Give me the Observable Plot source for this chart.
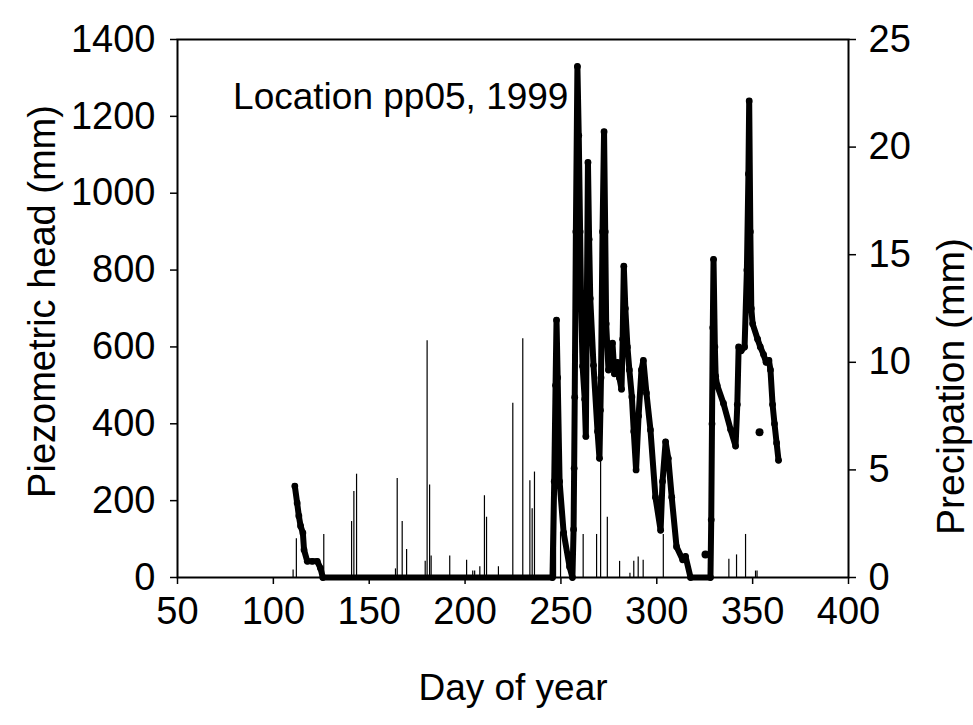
<!DOCTYPE html>
<html>
<head>
<meta charset="utf-8">
<script src="https://cdn.jsdelivr.net/npm/d3@7"></script>
<script src="https://cdn.jsdelivr.net/npm/@observablehq/plot@0.6"></script>
<style>
  html, body { margin: 0; padding: 0; background: #fff; }
</style>
</head>
<body>
<div id="chart"></div>
<script>
// Piezometric head (mm) readings, by day of year
const headDay = [111.2, 112.4, 113.3, 114.2, 115.4, 116.0, 117.7, 120.3, 122.9, 124.6, 125.8,
  245.6, 246.5, 247.2, 247.7, 248.3, 249.3, 251.4, 254.5, 256.0,
  256.6, 256.9, 257.2, 257.8, 258.6, 259.3, 260.0, 260.5, 261.3, 262.4, 263.0,
  263.5, 264.1, 264.7, 265.3, 267.0, 269.1, 270.1,
  270.6, 270.9, 271.7, 272.5, 273.1, 273.6, 274.8, 275.9, 276.9, 277.9, 279.5, 280.5, 281.6,
  282.2, 282.8, 283.6, 284.7, 285.7, 287.0, 288.0, 289.2, 290.5, 292.0, 293.0, 294.6, 296.7,
  299.3, 302.0, 303.0, 304.6, 306.0, 307.8, 310.3, 313.5, 315.0, 317.6, 328.0,
  328.4, 328.8, 329.2, 329.6, 330.3, 330.7, 331.5, 334.8, 338.5, 341.1, 342.0, 342.7, 344.0,
  345.8, 347.0, 347.8, 348.2, 348.8, 349.3, 350.0, 352.6, 354.0, 355.7, 357.0, 358.5, 359.3,
  360.4, 361.4, 362.5, 363.5];
const headMm = [238, 194, 160, 134, 116, 72, 42, 42, 42, 24, 0,
  0, 250, 500, 670, 520, 250, 117, 28, 0,
  125, 284, 469, 900, 1330, 1150, 900, 724, 550, 464, 367,
  700, 1080, 880, 726, 552, 380, 310,
  435, 520, 900, 1160, 900, 660, 540, 600, 610, 530, 560, 520, 490,
  620, 810, 700, 600, 540, 470, 380, 280, 420, 540, 565, 480, 384,
  209, 123, 250, 353, 310, 209, 80, 46, 55, 0, 0,
  150, 400, 650, 828, 600, 524, 500, 453, 385, 342, 450, 600, 590,
  600, 800, 1050, 1240, 900, 700, 660, 620, 600, 580, 560, 565, 540,
  450, 400, 350, 305];

// Isolated head readings
const strayDay = [325.4, 353.6];
const strayMm = [60, 378];

// Daily precipitation (mm)
const rainDay = [110.3, 112.0, 126.3, 140.8, 142.0, 143.4, 163.7, 164.6, 167.2, 169.5, 179.2, 180.2,
  181.5, 182.3, 192.0, 200.8, 204.0, 205.0, 207.7, 210.1, 211.2, 217.4, 224.9, 230.1, 233.8, 235.0,
  236.2, 245.4, 247.2, 249.8, 256.2, 261.6, 268.6, 270.7, 274.2, 280.6, 286.0, 288.0, 290.3, 292.9,
  303.4, 337.6, 341.6, 346.3, 351.5, 352.3];
const rainMm = [0.35, 1.8, 2.0, 2.6, 4.0, 4.8, 0.4, 4.6, 2.6, 1.3, 0.75, 11.0,
  4.3, 1.0, 1.0, 0.8, 0.3, 0.3, 0.5, 3.8, 2.8, 0.5, 8.1, 11.1, 4.5, 3.2,
  4.9, 3.8, 3.1, 2.1, 2.0, 2.0, 2.0, 5.4, 2.8, 0.75, 0.2, 0.75, 0.95, 0.8,
  2.0, 0.85, 1.05, 2.0, 0.3, 0.3];

// Axes and labels
const xTicks = [50, 100, 150, 200, 250, 300, 350, 400];
const headTicks = [0, 200, 400, 600, 800, 1000, 1200, 1400];
const rainTicks = [0, 5, 10, 15, 20, 25];
const xLabel = "Day of year";
const yLabel = "Piezometric head (mm)";
const y2Label = "Precipation (mm)";
const noteText = ["Location pp05, 1999"];
const noteDay = [79];
const noteHead = [1250];

const headMax = 1400, rainMax = 25;
const k = headMax / rainMax;

const head = headDay.map((d, i) => ({day: d, mm: headMm[i]}));
const stray = strayDay.map((d, i) => ({day: d, mm: strayMm[i]}));
const rain = rainDay.map((d, i) => ({day: d, mm: rainMm[i]}));
const notes = noteText.map((t, i) => ({text: t, day: noteDay[i], mm: noteHead[i]}));

const font = "'Liberation Sans', Arial, Helvetica, sans-serif";

const chart = Plot.plot({
  width: 973,
  height: 725,
  marginTop: 39,
  marginBottom: 148,
  marginLeft: 177,
  marginRight: 125,
  style: {fontFamily: font, fontSize: "38px", color: "black", background: "white"},
  x: {domain: [50, 400]},
  y: {domain: [0, headMax]},
  marks: [
    Plot.ruleX(rain, {x: "day", y1: 0, y2: d => d.mm * k, stroke: "black", strokeWidth: 1.2}),
    Plot.line(head, {x: "day", y: "mm", stroke: "black", strokeWidth: 6, strokeLinejoin: "round", strokeLinecap: "round"}),
    Plot.dot(head, {x: "day", y: "mm", r: 3.4, fill: "black"}),
    Plot.dot(stray, {x: "day", y: "mm", r: 4, fill: "black"}),
    Plot.frame({stroke: "black", strokeWidth: 2}),
    Plot.axisX({ticks: xTicks, tickSize: 7, tickPadding: 13, tickFormat: d => String(d), label: null, strokeWidth: 1.5}),
    Plot.axisY({ticks: headTicks, anchor: "left", tickSize: 7, tickPadding: 15, tickFormat: d => String(d), label: null, strokeWidth: 1.5}),
    Plot.axisY({ticks: rainTicks.map(v => v * k), anchor: "right", tickSize: 7, tickPadding: 13,
      tickFormat: d => String(Math.round(d / k)), label: null, strokeWidth: 1.5}),
    Plot.text([xLabel], {frameAnchor: "bottom", textAnchor: "middle", lineAnchor: "middle", dy: 111, fontSize: 37}),
    Plot.text([yLabel], {frameAnchor: "left", textAnchor: "middle", lineAnchor: "middle", rotate: -90, dx: -135, dy: -7, fontSize: 38}),
    Plot.text([y2Label], {frameAnchor: "right", textAnchor: "middle", lineAnchor: "middle", rotate: -90, dx: 103, dy: 78, fontSize: 39}),
    Plot.text(notes, {x: "day", y: "mm", text: "text", textAnchor: "start", fontSize: 37})
  ]
});
document.getElementById("chart").appendChild(chart);
</script>
</body>
</html>
